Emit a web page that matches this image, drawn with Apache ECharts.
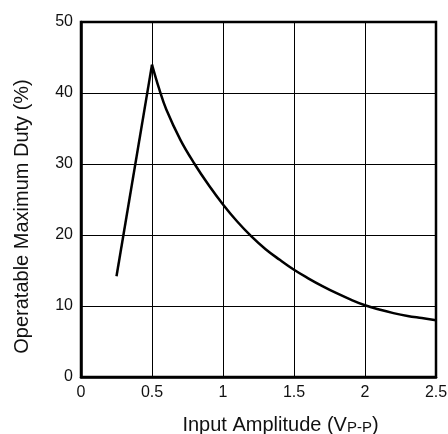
<!DOCTYPE html>
<html>
<head>
<meta charset="utf-8">
<script src="https://cdn.jsdelivr.net/npm/echarts@6/dist/echarts.min.js"></script>
<style>html,body{margin:0;padding:0;background:#fff}#c{width:448px;height:434px}</style>
</head>
<body>
<div id="c"></div>
<script>
const riseX = [0.25, 0.5];
const riseY = [14.2, 44.0];
const decayX = [0.5, 0.55, 0.6, 0.7, 0.8, 0.9, 1.0, 1.1, 1.2, 1.3, 1.4, 1.5, 1.6, 1.7, 1.8, 1.9, 2.0, 2.1, 2.2, 2.3, 2.4, 2.5];
const decayY = [44.0, 40.6, 37.7, 33.4, 30.0, 27.0, 24.3, 21.9, 19.8, 18.0, 16.5, 15.1, 13.9, 12.8, 11.8, 10.9, 10.1, 9.5, 9.0, 8.6, 8.3, 8.0];
const xTicks = ['0', '0.5', '1', '1.5', '2', '2.5'];
const yTicks = ['0', '10', '20', '30', '40', '50'];

const font = 'Liberation Sans';
const chart = echarts.init(document.getElementById('c'), null, {renderer: 'canvas'});
chart.setOption({
  animation: false,
  backgroundColor: '#fff',
  grid: {left: 81, top: 22, right: 12, bottom: 57, show: true, borderColor: '#000', borderWidth: 2.5,
         containLabel: false, outerBoundsMode: 'none'},
  xAxis: {
    type: 'value', min: 0, max: 2.5, interval: 0.5,
    name: '{m|Input Amplitude (V}{s|P-P}{m|)}',
    nameLocation: 'middle', nameGap: 35,
    nameTextStyle: {
      fontFamily: font, fontSize: 20, color: '#111', padding: [0, 0, 0, 44],
      rich: {
        m: {fontFamily: font, fontSize: 20, color: '#111', verticalAlign: 'bottom', lineHeight: 23},
        s: {fontFamily: font, fontSize: 15, color: '#111', verticalAlign: 'bottom', lineHeight: 18}
      }
    },
    axisLine: {show: true, lineStyle: {color: '#000', width: 2.5}},
    axisTick: {show: false},
    axisLabel: {
      fontFamily: font, fontSize: 16, color: '#111', margin: 8,
      formatter: v => xTicks[Math.round(v / 0.5)]
    },
    splitLine: {show: true, lineStyle: {color: '#000', width: 1}}
  },
  yAxis: {
    type: 'value', min: 0, max: 50, interval: 10,
    name: 'Operatable Maximum Duty (%)',
    nameLocation: 'middle', nameGap: 49,
    nameTextStyle: {fontFamily: font, fontSize: 20, color: '#111', padding: [0, 34, 0, 0]},
    axisLine: {show: true, lineStyle: {color: '#000', width: 2.5}},
    axisTick: {show: false},
    axisLabel: {
      fontFamily: font, fontSize: 16, color: '#111', margin: 8,
      formatter: v => yTicks[Math.round(v / 10)]
    },
    splitLine: {show: true, lineStyle: {color: '#000', width: 1}}
  },
  series: [
    {
      type: 'line', data: riseX.map((x, i) => [x, riseY[i]]),
      showSymbol: false, lineStyle: {color: '#000', width: 2.5}, smooth: false
    },
    {
      type: 'line', data: decayX.map((x, i) => [x, decayY[i]]),
      showSymbol: false, lineStyle: {color: '#000', width: 2.5}, smooth: 0.4
    }
  ]
});
</script>
</body>
</html>
